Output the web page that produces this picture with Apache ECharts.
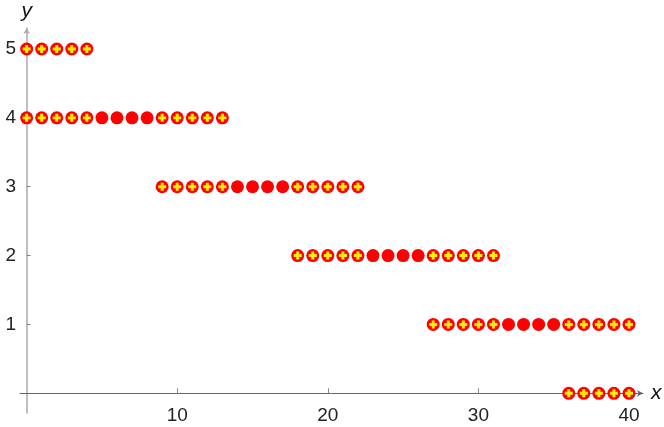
<!DOCTYPE html>
<html><head><meta charset="utf-8">
<script src="https://cdn.jsdelivr.net/npm/echarts@6/dist/echarts.min.js"></script>
<style>html,body{margin:0;padding:0;background:#fff}#c{width:664px;height:427px}</style>
</head><body><div id="c"></div>
<script>
// points marked with a yellow plus
const crossPoints = [
  [0,5],[1,5],[2,5],[3,5],[4,5],
  [0,4],[1,4],[2,4],[3,4],[4,4],[9,4],[10,4],[11,4],[12,4],[13,4],
  [9,3],[10,3],[11,3],[12,3],[13,3],[18,3],[19,3],[20,3],[21,3],[22,3],
  [18,2],[19,2],[20,2],[21,2],[22,2],[27,2],[28,2],[29,2],[30,2],[31,2],
  [27,1],[28,1],[29,1],[30,1],[31,1],[36,1],[37,1],[38,1],[39,1],[40,1],
  [36,0],[37,0],[38,0],[39,0],[40,0]
];
// plain red points
const plainPoints = [
  [5,4],[6,4],[7,4],[8,4],
  [14,3],[15,3],[16,3],[17,3],
  [23,2],[24,2],[25,2],[26,2],
  [32,1],[33,1],[34,1],[35,1]
];
const xTicks = [10,20,30,40];
const yTicks = [1,2,3,4,5];

const allPoints = crossPoints.concat(plainPoints);
const chart = echarts.init(document.getElementById('c'));
const font = 'Liberation Sans, Arial, sans-serif';
chart.setOption({
  animation: false,
  grid: {left: 20, right: 21, top: 28, bottom: 14, containLabel: false, outerBoundsMode: 'none'},
  xAxis: {
    type: 'value', min: -0.44, max: 40.93,
    name: 'x', nameLocation: 'end', nameGap: 8,
    nameTextStyle: {fontStyle: 'italic', fontSize: 21, color: '#111', fontFamily: font, verticalAlign: 'middle'},
    axisLine: {onZero: true, symbol: ['none','arrow'], symbolSize: [5,6], lineStyle: {color: '#666', width: 1}},
    axisTick: {show: true, inside: true, length: 5, customValues: xTicks, lineStyle: {color: '#888'}},
    axisLabel: {customValues: xTicks, fontSize: 19, color: '#222', fontFamily: font, margin: -7},
    splitLine: {show: false}
  },
  yAxis: {
    type: 'value', min: -0.286, max: 5.305,
    name: 'y', nameLocation: 'end', nameGap: 6,
    nameTextStyle: {fontStyle: 'italic', fontSize: 21, color: '#111', fontFamily: font, align: 'center'},
    axisLine: {onZero: true, symbol: ['none','arrow'], symbolSize: [5,6], lineStyle: {color: '#aaa', width: 1.5}},
    axisTick: {show: true, inside: true, length: 4, customValues: yTicks, lineStyle: {color: '#888'}},
    axisLabel: {customValues: yTicks, fontSize: 19, color: '#222', fontFamily: font, margin: 4},
    splitLine: {show: false}
  },
  series: [
    {type: 'scatter', data: allPoints, symbol: 'circle', symbolSize: 13,
     itemStyle: {color: '#ff0000', opacity: 1}},
    {type: 'scatter', data: crossPoints, z: 3,
     symbol: 'path://M2.2,0H4.8V2.2H7V4.8H4.8V7H2.2V4.8H0V2.2H2.2Z', symbolSize: 8,
     itemStyle: {color: '#ffee00', opacity: 1}}
  ]
});
</script></body></html>
